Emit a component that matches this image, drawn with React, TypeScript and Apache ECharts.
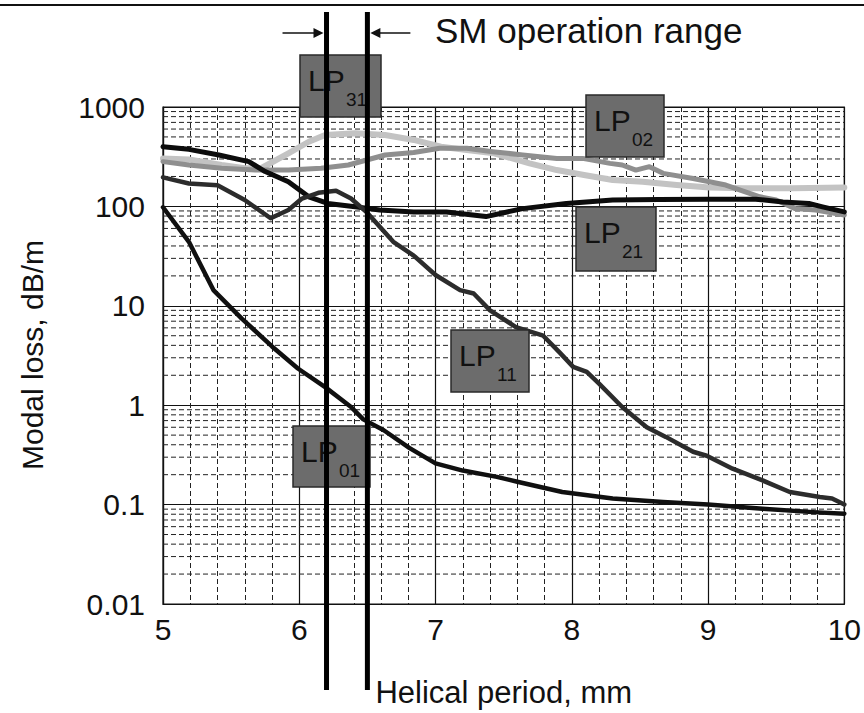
import React, { useEffect, useRef } from "react";
import * as echarts from "echarts";

// ---------- axis structure ----------
const xMin = 5;
const xMax = 10;
const yMin = 0.01;
const yMax = 1000;
const yTickLabels = ["0.01", "0.1", "1", "10", "100", "1000"];
const decadeStarts = [0.01, 0.1, 1, 10, 100];
const minorMultipliers = [2, 3, 4, 5, 6, 7, 8, 9];

// ---------- series data ----------
const lp01X = [5.0, 5.19, 5.37, 5.58, 5.8, 5.99, 6.19, 6.38, 6.47, 6.62, 6.81, 7.0, 7.2, 7.45, 7.6, 7.93, 8.3, 8.67, 9.0, 9.4, 9.77, 10.0];
const lp01Y = [98, 44, 14.4, 7.4, 3.9, 2.34, 1.52, 0.96, 0.72, 0.56, 0.37, 0.26, 0.22, 0.19, 0.17, 0.134, 0.115, 0.106, 0.1, 0.091, 0.084, 0.081];

const lp11X = [5.0, 5.19, 5.4, 5.6, 5.79, 5.92, 6.02, 6.14, 6.27, 6.38, 6.5, 6.69, 6.84, 7.0, 7.18, 7.28, 7.4, 7.59, 7.79, 7.91, 8.01, 8.11, 8.2, 8.37, 8.55, 8.69, 8.89, 8.99, 9.18, 9.4, 9.6, 9.82, 9.91, 10.0];
const lp11Y = [196, 170, 163, 116, 76, 92, 120, 137, 144, 120, 86, 44, 32, 20.4, 14.4, 13.3, 9.0, 6.1, 5.0, 3.4, 2.43, 2.16, 1.65, 0.96, 0.6, 0.48, 0.34, 0.31, 0.23, 0.175, 0.134, 0.119, 0.115, 0.1];

const lp21X = [5.0, 5.19, 5.41, 5.63, 5.75, 5.92, 6.07, 6.21, 6.41, 6.59, 6.84, 7.08, 7.37, 7.64, 7.96, 8.3, 8.64, 9.01, 9.35, 9.55, 9.74, 9.84, 10.0];
const lp21Y = [398, 375, 329, 282, 224, 177, 125, 107, 99, 92, 88, 88, 79, 95, 107, 116, 117, 118, 118, 111, 107, 99, 88];

const lp02X = [5.0, 5.19, 5.43, 5.68, 5.92, 6.16, 6.36, 6.63, 6.84, 7.03, 7.23, 7.42, 7.64, 7.89, 8.08, 8.28, 8.37, 8.47, 8.57, 8.67, 8.89, 9.13, 9.38, 9.5, 9.64, 9.79, 10.0];
const lp02Y = [282, 261, 242, 232, 232, 242, 261, 329, 348, 384, 384, 355, 329, 304, 304, 271, 261, 232, 251, 215, 191, 164, 125, 116, 95, 92, 82];

const lp31X = [5.0, 5.19, 5.43, 5.6, 5.72, 5.92, 6.07, 6.19, 6.41, 6.63, 6.84, 7.04, 7.23, 7.43, 7.69, 7.89, 8.09, 8.3, 8.52, 8.77, 9.01, 9.25, 9.62, 10.0];
const lp31Y = [304, 296, 261, 242, 242, 342, 447, 522, 543, 522, 466, 398, 369, 342, 271, 232, 207, 184, 177, 164, 155, 152, 152, 155];

// single-mode operation range (helical period, mm)
const smRange = [6.2, 6.5];

// mode label names
const modeSubs = ["31", "02", "21", "11", "01"];

const zip = (xs: number[], ys: number[]) => xs.map((x, i) => [x, ys[i]]);

export default function App() {
  const ref = useRef<HTMLDivElement>(null);

  useEffect(() => {
    document.body.style.margin = "0";
    if (!ref.current) return;
    const chart = echarts.init(ref.current, undefined, { renderer: "svg" });
    const font = "'Liberation Sans', Arial, sans-serif";

    const minorValues: number[][] = [];
    decadeStarts.forEach((d) => minorMultipliers.forEach((m) => minorValues.push([xMin, d * m])));

    const lineSeries = (name: string, data: number[][], color: string, width: number) => ({
      name,
      type: "line",
      data,
      showSymbol: false,
      symbol: "none",
      lineStyle: { color, width, cap: "round", join: "round" },
      z: 3,
    });

    const option: any = {
      animation: false,
      backgroundColor: "#ffffff",
      grid: {
        left: 163,
        top: 107,
        width: 682,
        height: 497,
        show: true,
        borderColor: "#111",
        borderWidth: 1.2,
      },
      xAxis: {
        type: "value",
        min: xMin,
        max: xMax,
        interval: 1,
        axisLine: { show: true, lineStyle: { color: "#111", width: 1.2 } },
        axisTick: { show: false },
        axisLabel: { color: "#111", fontSize: 30, fontFamily: font, margin: 10 },
        splitLine: { show: true, lineStyle: { color: "#111", width: 1.2 } },
        minorTick: { show: false, splitNumber: 5 },
        minorSplitLine: { show: true, lineStyle: { color: "#222", width: 1, type: [5, 3] } },
      },
      yAxis: {
        type: "log",
        logBase: 10,
        min: yMin,
        max: yMax,
        axisLine: { show: true, lineStyle: { color: "#111", width: 1.2 } },
        axisTick: { show: false },
        axisLabel: {
          color: "#111",
          fontSize: 30,
          fontFamily: font,
          margin: 18,
          formatter: (v: number) => yTickLabels[Math.round(Math.log10(v)) + 2] ?? String(v),
        },
        splitLine: { show: true, lineStyle: { color: "#111", width: 1.2 } },
      },
      series: [
        {
          type: "custom",
          silent: true,
          z: 1,
          data: minorValues,
          encode: { x: 0, y: 1 },
          renderItem: (params: any, api: any) => {
            const v = api.value(1);
            const p1 = api.coord([xMin, v]);
            const p2 = api.coord([xMax, v]);
            return {
              type: "line",
              shape: { x1: p1[0], y1: p1[1], x2: p2[0], y2: p2[1] },
              style: { stroke: "#222", lineWidth: 1, lineDash: [5, 3] },
            };
          },
        },
        lineSeries("LP31", zip(lp31X, lp31Y), "#c3c3c3", 6),
        lineSeries("LP02", zip(lp02X, lp02Y), "#8f8f8f", 5),
        lineSeries("LP21", zip(lp21X, lp21Y), "#0c0c0c", 5),
        lineSeries("LP11", zip(lp11X, lp11Y), "#2c2c2c", 4.5),
        lineSeries("LP01", zip(lp01X, lp01Y), "#101010", 4.5),
      ],
    };
    chart.setOption(option);

    const xa = chart.convertToPixel({ xAxisIndex: 0 }, smRange[0]) as number;
    const xb = chart.convertToPixel({ xAxisIndex: 0 }, smRange[1]) as number;

    const boxLayout = [
      { x: 300, y: 55, w: 81, h: 62 },
      { x: 586, y: 95, w: 78, h: 62 },
      { x: 576, y: 207, w: 80, h: 64 },
      { x: 451, y: 330, w: 78, h: 62 },
      { x: 293, y: 426, w: 77, h: 61 },
    ];

    const graphics: any[] = [];
    // top border line of the figure
    graphics.push({
      type: "line",
      z: 200,
      shape: { x1: 0, y1: 5, x2: 864, y2: 5 },
      style: { stroke: "#111", lineWidth: 2 },
    });
    // mode labels
    boxLayout.forEach((b, i) => {
      graphics.push({
        type: "rect",
        z: 100,
        shape: { x: b.x, y: b.y, width: b.w, height: b.h },
        style: { fill: "#6c6c6c", stroke: "#2a2a2a", lineWidth: 1.5 },
      });
      graphics.push({
        type: "text",
        z: 101,
        x: b.x + 8,
        y: b.y + 10,
        style: { text: "LP", fill: "#111", font: `30px ${font}`, textAlign: "left", textVerticalAlign: "top" },
      });
      graphics.push({
        type: "text",
        z: 101,
        x: b.x + 46,
        y: b.y + 35,
        style: { text: modeSubs[i], fill: "#111", font: `19px ${font}`, textAlign: "left", textVerticalAlign: "top" },
      });
    });
    // SM operation range vertical bars
    [xa, xb].forEach((px) => {
      graphics.push({
        type: "line",
        z: 150,
        shape: { x1: px, y1: 12, x2: px, y2: 690 },
        style: { stroke: "#000", lineWidth: 5 },
      });
    });
    // arrows
    const ay = 33;
    graphics.push({ type: "line", z: 150, shape: { x1: xa - 44, y1: ay, x2: xa - 10, y2: ay }, style: { stroke: "#111", lineWidth: 1.5 } });
    graphics.push({ type: "polygon", z: 150, shape: { points: [[xa - 13, ay - 5], [xa - 3, ay], [xa - 13, ay + 5]] }, style: { fill: "#111" } });
    graphics.push({ type: "line", z: 150, shape: { x1: xb + 10, y1: ay, x2: xb + 43, y2: ay }, style: { stroke: "#111", lineWidth: 1.5 } });
    graphics.push({ type: "polygon", z: 150, shape: { points: [[xb + 13, ay - 5], [xb + 3, ay], [xb + 13, ay + 5]] }, style: { fill: "#111" } });
    graphics.push({
      type: "text",
      z: 150,
      x: 435,
      y: 30,
      style: { text: "SM operation range", fill: "#111", font: `35px ${font}`, textAlign: "left", textVerticalAlign: "middle" },
    });
    // axis names
    graphics.push({
      type: "text",
      z: 150,
      x: xb + 8,
      y: 692,
      style: { text: "Helical period, mm", fill: "#111", font: `31px ${font}`, textAlign: "left", textVerticalAlign: "middle" },
    });
    graphics.push({
      type: "text",
      z: 150,
      x: 32,
      y: 355,
      rotation: Math.PI / 2,
      style: { text: "Modal loss, dB/m", fill: "#111", font: `30px ${font}`, textAlign: "center", textVerticalAlign: "middle" },
    });

    chart.setOption({ graphic: graphics });

    return () => chart.dispose();
  }, []);

  return <div ref={ref} style={{ width: 864, height: 713 }} />;
}
